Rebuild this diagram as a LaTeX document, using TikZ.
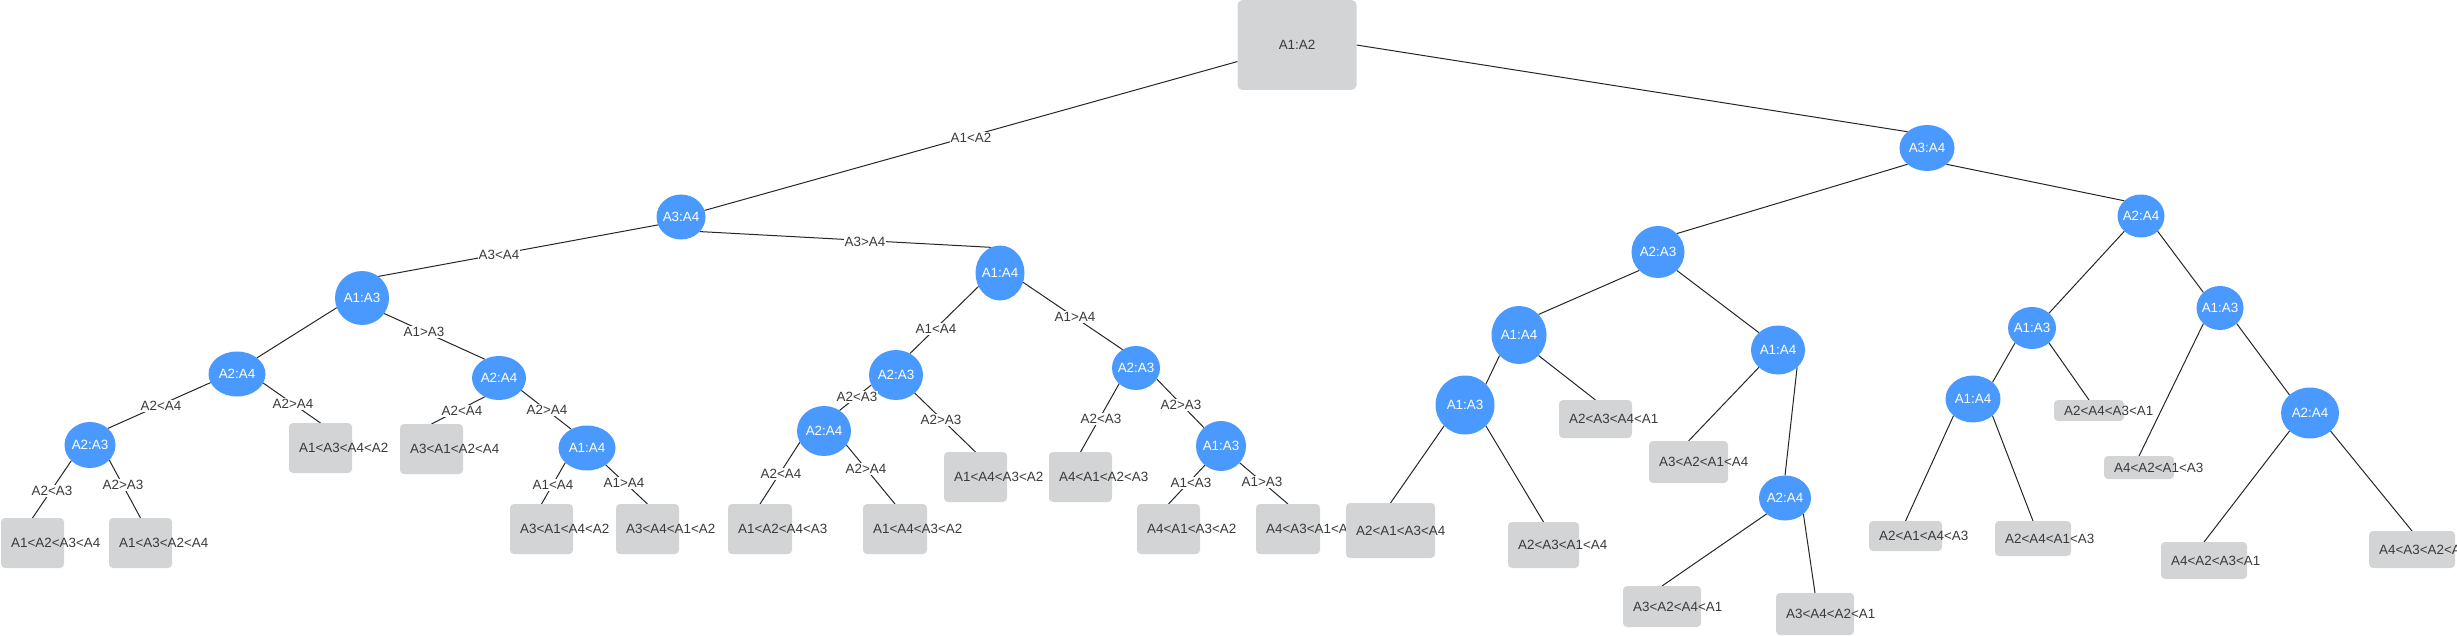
\documentclass[tikz,border=0pt]{standalone}
\usepackage{fontspec}
\setmainfont{Liberation Sans}
\usetikzlibrary{shapes.geometric}
\definecolor{nodeblue}{HTML}{4A99FF}
\definecolor{leafgray}{HTML}{D3D4D6}
\definecolor{txtgray}{HTML}{3A3A3A}
\definecolor{edgecol}{HTML}{262626}
\pgfdeclarelayer{bg}
\pgfsetlayers{bg,main}
\newcommand{\mkleaf}[6]{%
  \node[leafbox, minimum width=#4pt, minimum height=#5pt] (#1) at (#2,#3) {};
  \node[leaftext] (#1t) at ([xshift=10pt]#1.west) {#6};}
\newcommand{\mkinner}[6]{%
  \node[innode, minimum width=#4pt, minimum height=#5pt] (#1) at (#2,#3) {\makebox[0pt]{#6}};}
\begin{document}
\begin{tikzpicture}[x=1pt,y=-1pt,
  txtfont/.style={font=\fontsize{13.4}{15}\selectfont},
  innode/.style={ellipse, fill=nodeblue, inner sep=0pt, outer sep=0pt, text=white, txtfont},
  leafbox/.style={rectangle, rounded corners=4pt, fill=leafgray, inner sep=0pt, outer sep=0pt},
  rootbox/.style={rectangle, rounded corners=5pt, fill=leafgray, inner sep=0pt, outer sep=0pt, text=txtgray, txtfont},
  leaftext/.style={anchor=west, inner sep=0pt, text=txtgray, txtfont},
  elab/.style={fill=white, inner sep=1pt, text=txtgray, txtfont},
  conn/.style={draw=edgecol, line width=1pt}]
\useasboundingbox (0,0) rectangle (2457,636);

% root
\node[rootbox, minimum width=119pt, minimum height=90pt] (root) at (1297,45) {A1:A2};

% internal nodes, left subtree
\mkinner{L}{681}{217}{49}{45}{A3:A4}
\mkinner{LL}{362}{298}{54}{54}{A1:A3}
\mkinner{LR}{1000}{273}{49}{55}{A1:A4}
\mkinner{LLL}{237}{374}{57}{45}{A2:A4}
\mkinner{LLR}{499}{378}{54}{44}{A2:A4}
\mkinner{LLLL}{90}{445}{51}{46}{A2:A3}
\mkinner{LLRR}{587}{448}{57}{45}{A1:A4}
\mkinner{LRL}{896}{375}{54}{50}{A2:A3}
\mkinner{LRR}{1136}{368}{48}{44}{A2:A3}
\mkinner{LRLL}{824}{431}{54}{50}{A2:A4}
\mkinner{LRRR}{1221}{446}{50}{50}{A1:A3}
% internal nodes, right subtree
\mkinner{R}{1927}{148}{55}{46}{A3:A4}
\mkinner{RL}{1658}{252}{53}{52}{A2:A3}
\mkinner{RR}{2141}{216}{47}{43}{A2:A4}
\mkinner{RLL}{1519}{335}{55}{58}{A1:A4}
\mkinner{RLR}{1778}{350}{54}{49}{A1:A4}
\mkinner{RLLL}{1465}{405}{59}{59}{A1:A3}
\mkinner{RLRR}{1785}{498}{52}{45}{A2:A4}
\mkinner{RRL}{2032}{328}{48}{42}{A1:A3}
\mkinner{RRR}{2220}{308}{47}{44}{A1:A3}
\mkinner{RRLL}{1973}{399}{55}{47}{A1:A4}
\mkinner{RRRR}{2310}{413}{58}{51}{A2:A4}

% leaves
\mkleaf{l1}{32.5}{543}{63}{50}{A1<A2<A3<A4}
\mkleaf{l2}{140.5}{543}{63}{50}{A1<A3<A2<A4}
\mkleaf{l3}{320.5}{448}{63}{50}{A1<A3<A4<A2}
\mkleaf{l4}{431.5}{449}{63}{50}{A3<A1<A2<A4}
\mkleaf{l5}{541.5}{529}{63}{50}{A3<A1<A4<A2}
\mkleaf{l6}{647.5}{529}{63}{50}{A3<A4<A1<A2}
\mkleaf{l7}{760}{529}{64}{50}{A1<A2<A4<A3}
\mkleaf{l8}{895}{529}{64}{50}{A1<A4<A3<A2}
\mkleaf{l9}{975.5}{477}{63}{50}{A1<A4<A3<A2}
\mkleaf{l10}{1080.5}{477}{63}{50}{A4<A1<A2<A3}
\mkleaf{l11}{1168.5}{529}{63}{50}{A4<A1<A3<A2}
\mkleaf{l12}{1288}{529}{64}{50}{A4<A3<A1<A2}
\mkleaf{l13}{1390.5}{530.5}{89}{55}{A2<A1<A3<A4}
\mkleaf{l14}{1543.5}{545}{71}{46}{A2<A3<A1<A4}
\mkleaf{l15}{1595.5}{419}{73}{38}{A2<A3<A4<A1}
\mkleaf{l16}{1688.5}{462}{79}{42}{A3<A2<A1<A4}
\mkleaf{l17}{1662}{606.5}{78}{41}{A3<A2<A4<A1}
\mkleaf{l18}{1815}{614}{78}{42}{A3<A4<A2<A1}
\mkleaf{l19}{1905.5}{536}{73}{30}{A2<A1<A4<A3}
\mkleaf{l20}{2033}{538.5}{76}{35}{A2<A4<A1<A3}
\mkleaf{l21}{2089}{410.5}{70}{21}{A2<A4<A3<A1}
\mkleaf{l22}{2139}{467.5}{70}{23}{A4<A2<A1<A3}
\mkleaf{l23}{2204}{560.5}{86}{37}{A4<A2<A3<A1}
\mkleaf{l24}{2412}{549.5}{86}{37}{A4<A3<A2<A1}

% connectors
\begin{pgfonlayer}{bg}
\path[conn] (root) -- (L);
\path[conn] (root.east) -- (R.north west);
% left subtree
\path[conn] (L.-161) -- (LL.53);
\path[conn] (L.-38) -- (LR.109);
\path[conn] (LL.-159) -- (LLL.39);
\path[conn] (LL.-35) -- (LLR.127);
\path[conn] (LLL.-162) -- (LLLL.43);
\path[conn] (LLL.-19) -- (l3.north);
\path[conn] (LLR.-127) -- (l4.north);
\path[conn] (LLR.-29) -- (LLRR.130);
\path[conn] (LLLL.-140) -- (l1.north);
\path[conn] (LLLL.-38) -- (l2.north);
\path[conn] (LLRR.-146) -- (l5.north);
\path[conn] (LLRR.-42) -- (l6.north);
\path[conn] (LR.-148) -- (LRL.57);
\path[conn] (LR.-22) -- (LRR.126);
\path[conn] (LRL.-158) -- (LRLL.53);
\path[conn] (LRL.-44) -- (l9.north);
\path[conn] (LRR.-137) -- (l10.north);
\path[conn] (LRR.-28) -- (LRRR.133);
\path[conn] (LRLL.-155) -- (l7.north);
\path[conn] (LRLL.-32) -- (l8.north);
\path[conn] (LRRR.-130) -- (l11.north);
\path[conn] (LRRR.-42) -- (l12.north);
% right subtree
\path[conn] (R.south west) -- (RL.north east);
\path[conn] (R.south east) -- (RR.north west);
\path[conn] (RL.south west) -- (RLL.north east);
\path[conn] (RL.south east) -- (RLR.north west);
\path[conn] (RLL.south west) -- (RLLL.north east);
\path[conn] (RLL.south east) -- (l15.north);
\path[conn] (RLR.south west) -- (l16.north);
\path[conn] (RLR.south east) -- (RLRR.north);
\path[conn] (RLLL.south west) -- (l13.north);
\path[conn] (RLLL.south east) -- (l14.north);
\path[conn] (RLRR.south west) -- (l17.north);
\path[conn] (RLRR.south east) -- (l18.north);
\path[conn] (RR.south west) -- (RRL.north east);
\path[conn] (RR.south east) -- (RRR.north west);
\path[conn] (RRL.south west) -- (RRLL.north east);
\path[conn] (RRL.south east) -- (l21.north);
\path[conn] (RRR.south west) -- (l22.north);
\path[conn] (RRR.south east) -- (RRRR.north west);
\path[conn] (RRLL.south west) -- (l19.north);
\path[conn] (RRLL.south east) -- (l20.north);
\path[conn] (RRRR.south west) -- (l23.north);
\path[conn] (RRRR.south east) -- (l24.north);
\end{pgfonlayer}

% connector labels
\node[elab] (e1) at (971,138) {A1<A2};
\node[elab] (e2) at (499,255) {A3<A4};
\node[elab] (e3) at (865,242) {A3>A4};
\node[elab] (e4) at (424,332) {A1>A3};
\node[elab] (e5) at (161,406) {A2<A4};
\node[elab] (e6) at (293,404) {A2>A4};
\node[elab] (e7) at (462,411) {A2<A4};
\node[elab] (e8) at (547,410) {A2>A4};
\node[elab] (e9) at (52,491) {A2<A3};
\node[elab] (e10) at (123,485) {A2>A3};
\node[elab] (e11) at (553,485) {A1<A4};
\node[elab] (e12) at (624,483) {A1>A4};
\node[elab] (e13) at (936,329) {A1<A4};
\node[elab] (e14) at (1075,317) {A1>A4};
\node[elab] (e15) at (857,397) {A2<A3};
\node[elab] (e16) at (941,420) {A2>A3};
\node[elab] (e17) at (1101,419) {A2<A3};
\node[elab] (e18) at (1181,405) {A2>A3};
\node[elab] (e19) at (781,474) {A2<A4};
\node[elab] (e20) at (866,469) {A2>A4};
\node[elab] (e21) at (1191,483) {A1<A3};
\node[elab] (e22) at (1262,482) {A1>A3};
\end{tikzpicture}
\end{document}
